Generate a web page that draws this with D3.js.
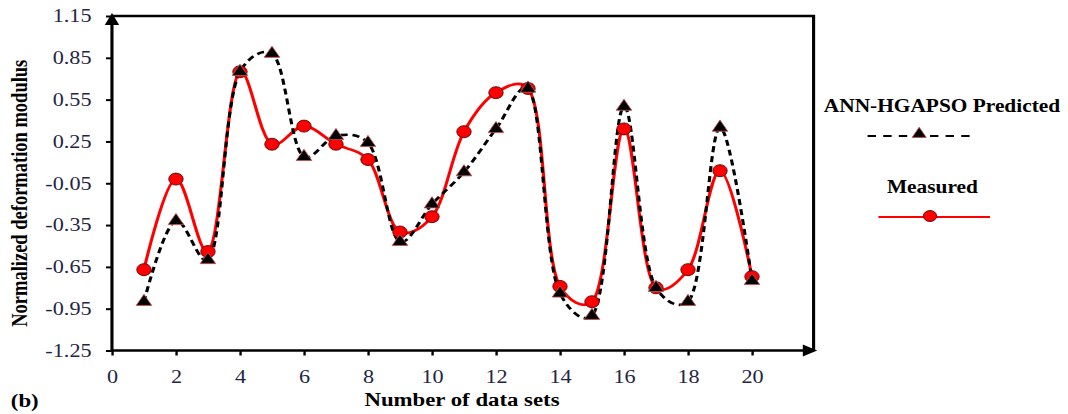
<!DOCTYPE html>
<html>
<head>
<meta charset="utf-8">
<script src="https://cdn.jsdelivr.net/npm/d3@7"></script>
<style>
  html, body { margin: 0; padding: 0; background: #fff; }
  svg { display: block; }
</style>
</head>
<body>
<svg id="chart"></svg>
<script>
// data
const dataSets = d3.range(1, 21);
const measured = [-0.67, -0.02, -0.54, 0.75, 0.23, 0.36, 0.23, 0.12, -0.40, -0.29,
                  0.32, 0.60, 0.63, -0.79, -0.90, 0.34, -0.80, -0.67, 0.04, -0.72];
const predicted = [-0.90, -0.32, -0.60, 0.75, 0.88, 0.14, 0.29, 0.24, -0.47, -0.20,
                   0.03, 0.34, 0.63, -0.84, -1.00, 0.50, -0.80, -0.90, 0.35, -0.75];
const yTicks = [1.15, 0.85, 0.55, 0.25, -0.05, -0.35, -0.65, -0.95, -1.25];
const xTicks = [0, 2, 4, 6, 8, 10, 12, 14, 16, 18, 20];
const seriesNames = ["ANN-HGAPSO Predicted", "Measured"];

// the original picture is stretched sideways, so draw in a narrower viewBox
const W = 1068, H = 414, stretch = 1.2;
const vw = W / stretch;

const svg = d3.select("#chart")
  .attr("width", W).attr("height", H)
  .attr("viewBox", [0, 0, vw, H])
  .attr("preserveAspectRatio", "none");

const x = d3.scaleLinear([0, 22], [93.3, 680]);
const y = d3.scaleLinear([-1.25, 1.15], [350.5, 16]);

const serif = "'Liberation Serif', 'Times New Roman', serif";
const tickColor = "#1f2544";

// frame: top and right border
svg.append("path")
  .attr("d", `M${x(0)},${y(1.15)}H${x(22) - 2}V${y(-1.25)}`)
  .attr("fill", "none").attr("stroke", "#000").attr("stroke-width", 2.6);

// y axis
const yAxis = svg.append("g")
  .attr("transform", `translate(${x(0)},0)`)
  .call(d3.axisLeft(y).tickValues(yTicks).tickFormat(d => d.toFixed(2))
    .tickSize(5).tickSizeOuter(0).tickPadding(12));
yAxis.select(".domain").attr("stroke-width", 2.6).attr("d", `M0,${y(-1.25)}V${y(1.15) + 8}`);
yAxis.selectAll(".tick line").attr("stroke-width", 2);
yAxis.selectAll(".tick text")
  .attr("font-family", serif).attr("font-size", 18.5).attr("fill", tickColor);

// x axis
const xAxis = svg.append("g")
  .attr("transform", `translate(0,${y(-1.25)})`)
  .call(d3.axisBottom(x).tickValues(xTicks).tickSize(5).tickSizeOuter(0).tickPadding(14));
xAxis.select(".domain").attr("stroke-width", 2.6).attr("d", `M${x(0)},0H${x(22) - 8}`);
xAxis.selectAll(".tick line").attr("stroke-width", 2);
xAxis.selectAll(".tick text")
  .attr("font-family", serif).attr("font-size", 18.5).attr("fill", tickColor);

// arrow heads
svg.append("path")
  .attr("d", `M${x(0)},${y(1.15) - 3}l-6,12h12z`)
  .attr("fill", "#000");
svg.append("path")
  .attr("d", `M${x(22) + 1},${y(-1.25)}l-12,-6v12z`)
  .attr("fill", "#000");

// axis titles
svg.append("text")
  .attr("transform", `translate(16,${(y(1.15) + y(-1.25)) / 2 + 10}) rotate(-90)`)
  .attr("text-anchor", "middle").attr("dy", "0.35em")
  .attr("font-family", serif).attr("font-weight", "bold").attr("font-size", 18.5)
  .text("Normalized deformation modulus");

svg.append("text")
  .attr("x", 385).attr("y", 406)
  .attr("text-anchor", "middle")
  .attr("font-family", serif).attr("font-weight", "bold").attr("font-size", 19)
  .text("Number of data sets");

svg.append("text")
  .attr("x", 9).attr("y", 407)
  .attr("font-family", serif).attr("font-weight", "bold").attr("font-size", 19)
  .text("(b)");

// lines
const line = d3.line()
  .x((d, i) => x(dataSets[i]))
  .y(d => y(d))
  .curve(d3.curveCatmullRom.alpha(0.35));

svg.append("path")
  .datum(measured)
  .attr("d", line)
  .attr("fill", "none").attr("stroke", "#ff0000").attr("stroke-width", 2.6);

svg.append("path")
  .datum(predicted)
  .attr("d", line)
  .attr("fill", "none").attr("stroke", "#000").attr("stroke-width", 2.6)
  .attr("stroke-dasharray", "6,4");

// markers
svg.append("g")
  .selectAll("circle")
  .data(measured)
  .join("circle")
  .attr("cx", (d, i) => x(dataSets[i]))
  .attr("cy", d => y(d))
  .attr("r", 6)
  .attr("fill", "#ff0000").attr("stroke", "#5a0000").attr("stroke-width", 0.8);

const tri = d3.symbol(d3.symbolTriangle, 72);
svg.append("g")
  .selectAll("path")
  .data(predicted)
  .join("path")
  .attr("transform", (d, i) => `translate(${x(dataSets[i])},${y(d)})`)
  .attr("d", tri)
  .attr("fill", "#000").attr("stroke", "#c05050").attr("stroke-width", 0.8);

// legend
const lg = svg.append("g");
lg.append("text")
  .attr("x", 785).attr("y", 112).attr("text-anchor", "middle")
  .attr("font-family", serif).attr("font-weight", "bold").attr("font-size", 17.8)
  .text(seriesNames[0]);
lg.append("line")
  .attr("x1", 723).attr("x2", 814).attr("y1", 136).attr("y2", 136)
  .attr("stroke", "#000").attr("stroke-width", 2.2).attr("stroke-dasharray", "7,6");
lg.append("path")
  .attr("transform", "translate(766,134)")
  .attr("d", d3.symbol(d3.symbolTriangle, 60))
  .attr("fill", "#000").attr("stroke", "#c05050").attr("stroke-width", 0.8);

lg.append("text")
  .attr("x", 777).attr("y", 193).attr("text-anchor", "middle")
  .attr("font-family", serif).attr("font-weight", "bold").attr("font-size", 17.8)
  .text(seriesNames[1]);
lg.append("line")
  .attr("x1", 732).attr("x2", 825).attr("y1", 217).attr("y2", 217)
  .attr("stroke", "#ff0000").attr("stroke-width", 2);
lg.append("circle")
  .attr("cx", 775).attr("cy", 216).attr("r", 5.5)
  .attr("fill", "#ff0000").attr("stroke", "#5a0000").attr("stroke-width", 0.8);
</script>
</body>
</html>
